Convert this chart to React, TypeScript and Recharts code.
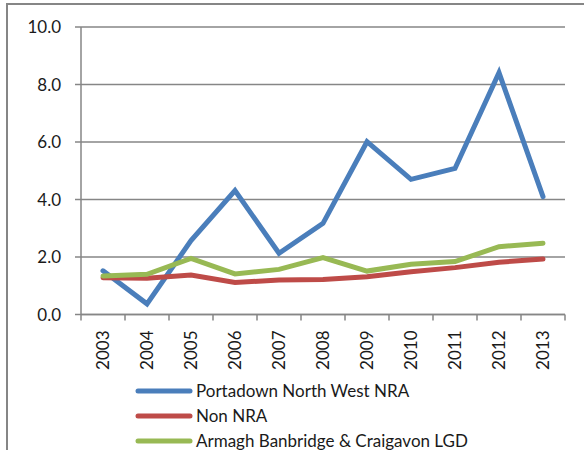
import React from 'react';
import { LineChart, Line, XAxis, YAxis, CartesianGrid, Legend } from 'recharts';

const years = [2003, 2004, 2005, 2006, 2007, 2008, 2009, 2010, 2011, 2012, 2013];
const portadown = [1.52, 0.37, 2.57, 4.31, 2.13, 3.17, 6.01, 4.7, 5.08, 8.41, 4.1];
const nonNra = [1.28, 1.26, 1.37, 1.11, 1.2, 1.22, 1.31, 1.49, 1.63, 1.82, 1.93];
const armagh = [1.34, 1.4, 1.95, 1.41, 1.57, 1.98, 1.51, 1.75, 1.84, 2.36, 2.48];
const yTicks = [0, 2, 4, 6, 8, 10];

const seriesNames = ['Portadown North West NRA', 'Non NRA', 'Armagh Banbridge & Craigavon LGD'];
const seriesColors = ['#4a7ebb', '#be4b48', '#98b954'];

const data = years.map((year, i) => ({
    year,
    portadown: portadown[i],
    nonNra: nonNra[i],
    armagh: armagh[i],
}));

// category boundaries get a tick mark, centres get the label
const xTicks = [...years.flatMap((y) => [y - 0.5, y]), years[years.length - 1] + 0.5];

const FONT = 'Lato, "Open Sans", sans-serif';
const GREY = '#868686';

const YearTick = (props: any) => {
    const { x, y, payload } = props;
    const v = payload.value;
    if (!Number.isInteger(v)) {
        return <line x1={x} x2={x} y1={y - 6} y2={y} stroke={GREY} strokeWidth={1.5} />;
    }
    return (
        <text
            transform={`translate(${x},${y + 10}) rotate(-90)`}
            textAnchor="end"
            dy="0.36em"
            fontSize={17}
            fontFamily={FONT}
            fill="#1a1a1a"
        >
            {v}
        </text>
    );
};

const LegendRows = () => (
    <div style={{ fontFamily: FONT, fontSize: 17, color: '#1a1a1a' }}>
        {seriesNames.map((name, i) => (
            <div key={name} style={{ display: 'flex', alignItems: 'center', height: 25 }}>
                <svg width={58} height={10} style={{ marginRight: 3 }}>
                    <line x1={3} x2={55} y1={5} y2={5} stroke={seriesColors[i]} strokeWidth={5} strokeLinecap="round" />
                </svg>
                <span>{name}</span>
            </div>
        ))}
    </div>
);

export default function App() {
    return (
        <div style={{ position: 'absolute', left: 0, top: 0, width: 584, height: 450, overflow: 'hidden', background: '#fff' }}>
            <div
                style={{
                    position: 'absolute',
                    left: 6,
                    top: 3,
                    width: 700,
                    height: 600,
                    borderTop: `2px solid ${GREY}`,
                    borderLeft: `2px solid ${GREY}`,
                }}
            />
            <LineChart
                width={584}
                height={450}
                data={data}
                margin={{ top: 27, right: 19, left: 21, bottom: 75.5 }}
                style={{ position: 'absolute', left: 0, top: 0 }}
            >
                <CartesianGrid vertical={false} stroke={GREY} strokeWidth={1.5} />
                <XAxis
                    dataKey="year"
                    type="number"
                    domain={[2002.5, 2013.5]}
                    ticks={xTicks}
                    interval={0}
                    height={60}
                    tickSize={6}
                    tickMargin={0}
                    tickLine={false}
                    axisLine={{ stroke: GREY, strokeWidth: 1.5 }}
                    tick={<YearTick />}
                />
                <YAxis
                    domain={[0, 10]}
                    ticks={yTicks}
                    width={60}
                    tickSize={6}
                    tickMargin={14}
                    tickFormatter={(v: number) => v.toFixed(1)}
                    tickLine={{ stroke: GREY, strokeWidth: 1.5 }}
                    axisLine={{ stroke: GREY, strokeWidth: 1.5 }}
                    tick={{ fontSize: 17, fontFamily: FONT, fill: '#1a1a1a' }}
                />
                <Legend
                    layout="horizontal"
                    verticalAlign="middle"
                    align="center"
                    wrapperStyle={{ top: 378, left: 135, width: 'auto' }}
                    content={<LegendRows />}
                />
                <Line dataKey="portadown" name={seriesNames[0]} stroke={seriesColors[0]} strokeWidth={5} strokeLinecap="round" dot={false} isAnimationActive={false} />
                <Line dataKey="nonNra" name={seriesNames[1]} stroke={seriesColors[1]} strokeWidth={5} strokeLinecap="round" dot={false} isAnimationActive={false} />
                <Line dataKey="armagh" name={seriesNames[2]} stroke={seriesColors[2]} strokeWidth={5} strokeLinecap="round" dot={false} isAnimationActive={false} />
            </LineChart>
        </div>
    );
}
